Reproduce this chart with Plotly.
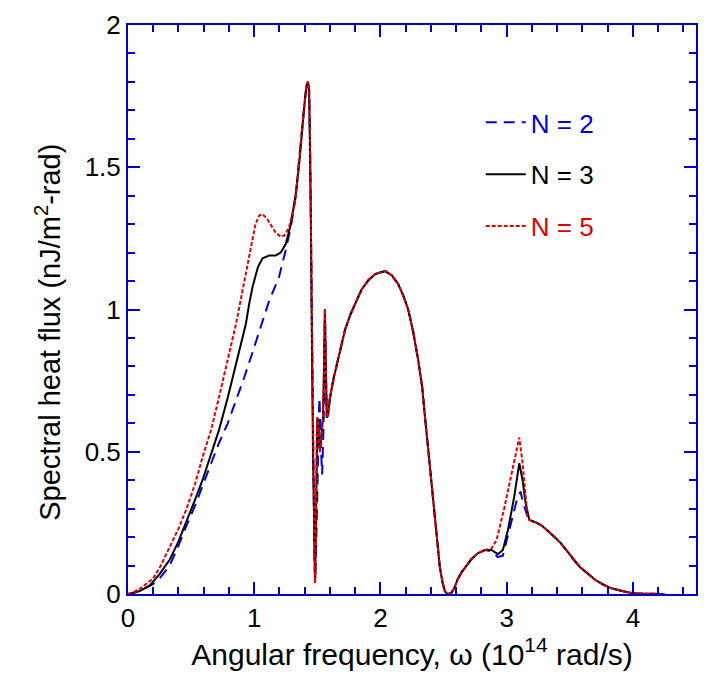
import plotly.graph_objects as go

# N = 3 (black solid)
x_n3 = [0, 0.05, 0.1, 0.173, 0.25, 0.33, 0.40, 0.46, 0.53, 0.59, 0.66, 0.72, 0.79, 0.856, 0.90, 0.934, 0.96, 0.987,
        1.03, 1.066, 1.12, 1.17, 1.21, 1.25, 1.29, 1.33, 1.36, 1.38, 1.40, 1.415, 1.425, 1.435, 1.442, 1.448, 1.454,
        1.46, 1.466, 1.472, 1.478, 1.482, 1.488, 1.495, 1.50, 1.51, 1.52, 1.53, 1.545, 1.553, 1.56, 1.567, 1.575,
        1.585, 1.60, 1.63, 1.67, 1.72, 1.76, 1.80, 1.85, 1.906, 1.96, 2.037, 2.09, 2.14, 2.18, 2.22, 2.26, 2.30,
        2.33, 2.35, 2.37, 2.39, 2.41, 2.43, 2.45, 2.47, 2.49, 2.51, 2.53, 2.56, 2.585, 2.61, 2.645, 2.68, 2.72, 2.77,
        2.83, 2.88, 2.93, 2.97, 3.01, 3.06, 3.10, 3.126, 3.15, 3.18, 3.24, 3.28, 3.32, 3.38, 3.43, 3.48, 3.53, 3.58,
        3.64, 3.70, 3.77, 3.83, 3.90, 3.97, 4.03, 4.15, 4.25]
y_n3 = [0, 0.004, 0.012, 0.03, 0.07, 0.12, 0.185, 0.25, 0.33, 0.40, 0.49, 0.575, 0.69, 0.81, 0.89, 0.95, 1.02, 1.08,
        1.15, 1.18, 1.19, 1.19, 1.20, 1.23, 1.30, 1.41, 1.53, 1.64, 1.73, 1.79, 1.80, 1.77, 1.60, 1.35, 1.02,
        0.67, 0.48, 0.32, 0.10, 0.04, 0.20, 0.55, 0.62, 0.58, 0.50, 0.55, 0.62, 0.80, 1.0, 0.80, 0.62,
        0.63, 0.69, 0.76, 0.84, 0.93, 0.98, 1.02, 1.07, 1.104, 1.125, 1.135, 1.12, 1.09, 1.05, 1.0, 0.92, 0.82,
        0.73, 0.636, 0.545, 0.45, 0.355, 0.26, 0.17, 0.096, 0.045, 0.01, 0.0, 0.003, 0.02, 0.05, 0.078, 0.10, 0.122, 0.143,
        0.155, 0.155, 0.14, 0.155, 0.225, 0.342, 0.46, 0.40, 0.32, 0.26, 0.25, 0.24, 0.225, 0.20, 0.178, 0.15, 0.12, 0.095,
        0.073, 0.05, 0.032, 0.02, 0.012, 0.005, 0.002, 0.0, 0.0]

# N = 5 (red short dash)
x_n5 = [0, 0.05, 0.1, 0.2, 0.26, 0.33, 0.40, 0.46, 0.53, 0.59, 0.66, 0.72, 0.79, 0.856, 0.90, 0.934, 0.97, 1.01,
        1.04, 1.066, 1.10, 1.13, 1.17, 1.21, 1.24, 1.276, 1.31, 1.33, 1.36, 1.38, 1.40, 1.415, 1.425, 1.435, 1.442,
        1.448, 1.454, 1.46, 1.466, 1.472, 1.478, 1.482, 1.488, 1.495, 1.50, 1.51, 1.52, 1.53, 1.545, 1.553, 1.56,
        1.567, 1.575, 1.585, 1.60, 1.63, 1.67, 1.72, 1.76, 1.80, 1.85, 1.906, 1.96, 2.037, 2.09, 2.14, 2.18, 2.22,
        2.26, 2.30, 2.33, 2.35, 2.37, 2.39, 2.41, 2.43, 2.45, 2.47, 2.49, 2.51, 2.53, 2.56, 2.585, 2.61, 2.645, 2.68,
        2.72, 2.77, 2.83, 2.88, 2.92, 2.98, 3.05, 3.10, 3.126, 3.165, 3.18, 3.24, 3.28, 3.32, 3.38, 3.43, 3.48, 3.53,
        3.58, 3.64, 3.70, 3.77, 3.83, 3.90, 3.97, 4.03, 4.15, 4.25]
y_n5 = [0, 0.008, 0.02, 0.055, 0.10, 0.165, 0.23, 0.295, 0.385, 0.48, 0.58, 0.69, 0.82, 0.95, 1.05, 1.13, 1.22, 1.30,
        1.33, 1.335, 1.32, 1.30, 1.27, 1.256, 1.26, 1.29, 1.35, 1.40, 1.53, 1.64, 1.73, 1.79, 1.80, 1.77, 1.60,
        1.35, 1.02, 0.67, 0.48, 0.32, 0.10, 0.04, 0.20, 0.55, 0.62, 0.58, 0.50, 0.55, 0.62, 0.80, 1.0,
        0.80, 0.62, 0.63, 0.69, 0.76, 0.84, 0.93, 0.98, 1.02, 1.07, 1.104, 1.125, 1.135, 1.12, 1.09, 1.05, 1.0,
        0.92, 0.82, 0.73, 0.636, 0.545, 0.45, 0.355, 0.26, 0.17, 0.096, 0.045, 0.01, 0.0, 0.003, 0.02, 0.05, 0.078, 0.10,
        0.122, 0.143, 0.155, 0.16, 0.19, 0.30, 0.44, 0.55, 0.46, 0.27, 0.26, 0.25, 0.24, 0.225, 0.20, 0.178, 0.15, 0.12,
        0.095, 0.073, 0.05, 0.032, 0.02, 0.012, 0.005, 0.002, 0.0, 0.0]

# N = 2 (blue long dash)
x_n2 = [0, 0.1, 0.2, 0.26, 0.33, 0.40, 0.46, 0.54, 0.59, 0.66, 0.72, 0.79, 0.856, 0.92, 0.987, 1.05, 1.118, 1.16,
        1.197, 1.25, 1.29, 1.33, 1.36, 1.38, 1.40, 1.415, 1.425, 1.435, 1.442, 1.448, 1.454, 1.46, 1.466, 1.472,
        1.478, 1.484, 1.49, 1.50, 1.51, 1.517, 1.53, 1.538, 1.55, 1.56, 1.567, 1.575, 1.585, 1.60, 1.63, 1.67, 1.72,
        1.76, 1.80, 1.85, 1.906, 1.96, 2.037, 2.09, 2.14, 2.18, 2.22, 2.26, 2.30, 2.33, 2.35, 2.37, 2.39, 2.41, 2.43,
        2.45, 2.47, 2.49, 2.51, 2.53, 2.56, 2.585, 2.61, 2.645, 2.68, 2.72, 2.77, 2.83, 2.88, 2.93, 2.97, 3.03, 3.08,
        3.11, 3.13, 3.16, 3.18, 3.24, 3.28, 3.32, 3.38, 3.43, 3.48, 3.53, 3.58, 3.64, 3.70, 3.77, 3.83, 3.90, 3.97,
        4.03, 4.15, 4.25]
y_n2 = [0, 0.012, 0.035, 0.06, 0.10, 0.17, 0.237, 0.32, 0.38, 0.46, 0.53, 0.60, 0.68, 0.76, 0.85, 0.94, 1.03, 1.075,
        1.115, 1.21, 1.29, 1.40, 1.53, 1.64, 1.73, 1.79, 1.80, 1.77, 1.60, 1.35, 1.02, 0.67, 0.48, 0.32,
        0.10, 0.05, 0.14, 0.35, 0.60, 0.69, 0.50, 0.42, 0.60, 1.0, 0.80, 0.62, 0.63, 0.69, 0.76, 0.84, 0.93,
        0.98, 1.02, 1.07, 1.104, 1.125, 1.135, 1.12, 1.09, 1.05, 1.0, 0.92, 0.82, 0.73, 0.636, 0.545, 0.45, 0.355, 0.26,
        0.17, 0.096, 0.045, 0.01, 0.0, 0.003, 0.02, 0.05, 0.078, 0.10, 0.122, 0.143, 0.155, 0.15, 0.13, 0.135, 0.236, 0.33,
        0.36, 0.32, 0.28, 0.26, 0.25, 0.24, 0.225, 0.20, 0.178, 0.15, 0.12, 0.095, 0.073, 0.05, 0.032, 0.02, 0.012, 0.005,
        0.002, 0.0, 0.0]

x_tick_vals = [0, 1, 2, 3, 4]
y_tick_vals = [0, 0.5, 1, 1.5, 2]
y_tick_text = ["0", "0.5", "1", "1.5", "2"]

AX = "#0000cc"
FONT = "Liberation Sans, Arial, sans-serif"

fig = go.Figure()
fig.add_trace(go.Scatter(x=x_n2, y=y_n2, mode="lines", legendgroup="a",
                         name="<span style='color:#0000dd'>N = 2</span>",
                         line=dict(color="#0000dd", width=2, dash="11px,7px")))
fig.add_trace(go.Scatter(x=x_n3, y=y_n3, mode="lines", legendgroup="b",
                         name="<span style='color:#000000'>N = 3</span>",
                         line=dict(color="#000000", width=2)))
fig.add_trace(go.Scatter(x=x_n5, y=y_n5, mode="lines", legendgroup="c",
                         name="<span style='color:#dd0000'>N = 5</span>",
                         line=dict(color="#dd0000", width=2, dash="4px,2px")))

fig.update_layout(
    width=707, height=694,
    margin=dict(l=128, r=9, t=25, b=100),
    paper_bgcolor="white", plot_bgcolor="white",
    font=dict(family=FONT, size=26, color="black"),
    showlegend=True,
    legend=dict(x=0.621, y=0.87, xanchor="left", yanchor="top", bgcolor="rgba(0,0,0,0)",
                font=dict(size=26), tracegroupgap=15, itemwidth=40),
    xaxis=dict(range=[0, 4.5], tickmode="array", tickvals=x_tick_vals, ticks="inside", ticklen=12,
               tickwidth=2, tickcolor=AX, showline=True, linecolor=AX, linewidth=2, mirror="allticks",
               showgrid=False, zeroline=False, tickfont=dict(size=26),
               minor=dict(dtick=0.2, ticks="inside", ticklen=7, tickwidth=1.5, tickcolor=AX, showgrid=False),
               title=dict(text="Angular frequency, ω (10<sup>14</sup> rad/s)", font=dict(size=30), standoff=10)),
    yaxis=dict(range=[0, 2], tickmode="array", tickvals=y_tick_vals, ticktext=y_tick_text, ticks="inside",
               ticklen=12, tickwidth=2, tickcolor=AX, showline=True, linecolor=AX, linewidth=2,
               mirror="allticks", showgrid=False, zeroline=False, tickfont=dict(size=26),
               minor=dict(dtick=0.1, ticks="inside", ticklen=7, tickwidth=1.5, tickcolor=AX, showgrid=False)),
    annotations=[dict(text="Spectral heat flux (nJ/m<sup>2</sup>-rad)", textangle=-90, showarrow=False,
                      xref="paper", yref="paper", x=-0.14, y=0.46, xanchor="center", yanchor="middle",
                      font=dict(size=29))],
)

fig.write_html("out.html")
